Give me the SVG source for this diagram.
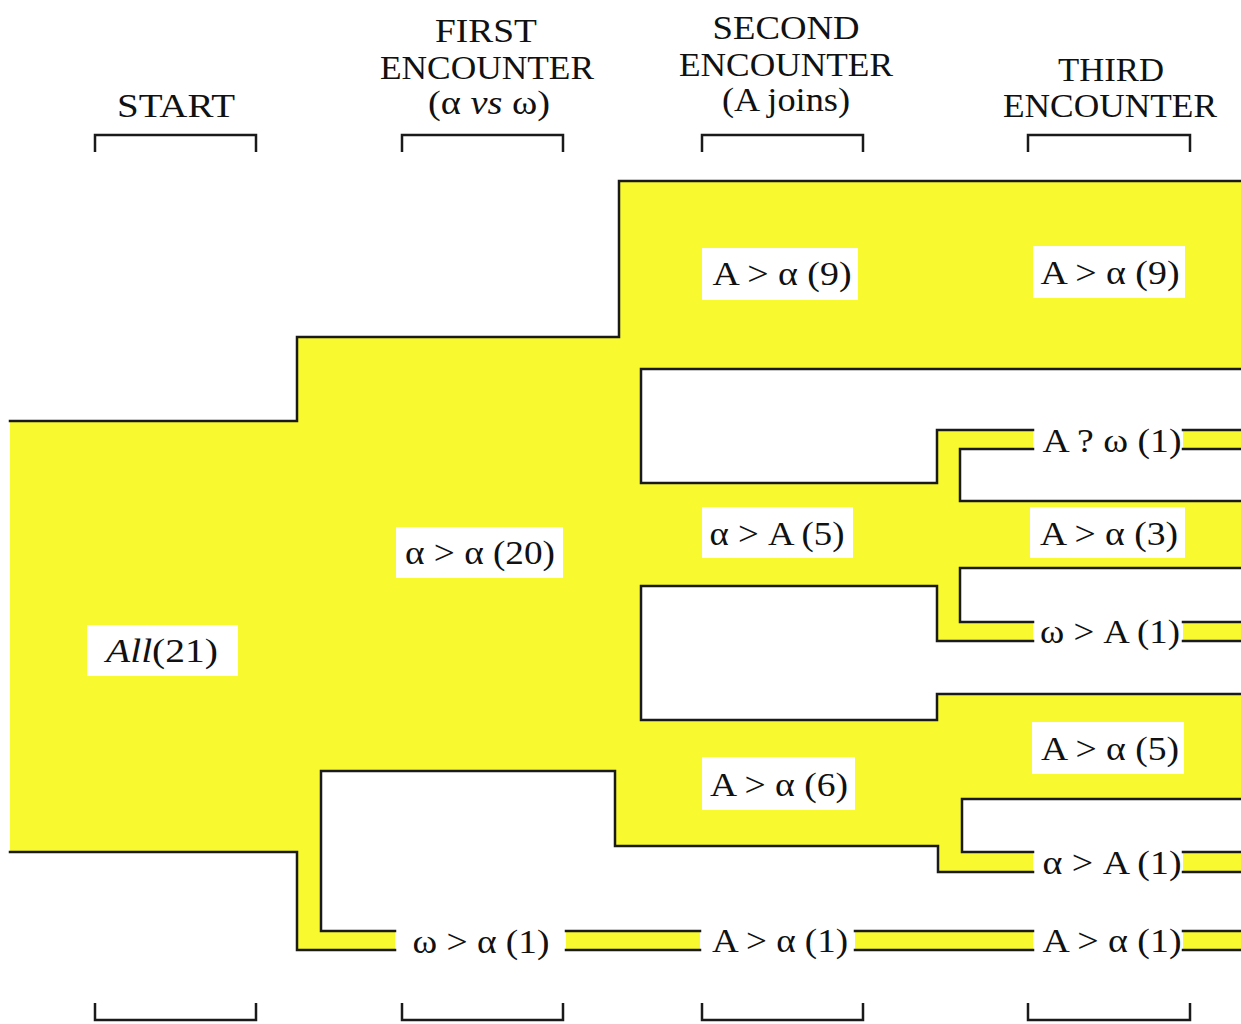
<svg xmlns="http://www.w3.org/2000/svg" width="1241" height="1024" viewBox="0 0 1241 1024">
<style>
.band{fill:#F9F930;stroke:none}
.ln{fill:none;stroke:#1a1a1a;stroke-width:2.5;stroke-linejoin:miter;stroke-linecap:square}
.br{fill:none;stroke:#1a1a1a;stroke-width:2.5}
.box{fill:#ffffff}
.t{font-family:"Liberation Serif","Times New Roman",serif;font-size:33px;fill:#111;text-anchor:middle}
.h{font-family:"Liberation Serif","Times New Roman",serif;font-size:33px;fill:#111;text-anchor:middle}
</style>
<rect width="1241" height="1024" fill="#ffffff"/>
<g id="connectors">
<path class="band" d="M10,421 H297 V337 H619 V181 H1241 V369 H641 V483 H937 V430 H1033 V449 H960 V501 H1241 V568 H960 V622 H1033 V641 H937 V586 H641 V720 H937 V694 H1241 V799 H962 V852 H1033 V872 H938 V846 H615 V771 H321 V931 H395 V950 H297 V852 H10 Z"/>
<rect class="band" x="1183" y="430" width="58" height="19"/>
<rect class="band" x="1183" y="622" width="58" height="19"/>
<rect class="band" x="1183" y="852" width="58" height="20"/>
<rect class="band" x="566" y="931" width="134" height="19"/>
<rect class="band" x="855" y="931" width="178" height="19"/>
<rect class="band" x="1183" y="931" width="58" height="19"/>
<path class="ln" d="M10,421 H297 V337 H619 V181 H1241"/>
<path class="ln" d="M1241,369 H641 V483 H937 V430 H1033"/>
<path class="ln" d="M1033,449 H960 V501 H1241"/>
<path class="ln" d="M1241,568 H960 V622 H1033"/>
<path class="ln" d="M1033,641 H937 V586 H641 V720 H937 V694 H1241"/>
<path class="ln" d="M1241,799 H962 V852 H1033"/>
<path class="ln" d="M1033,872 H938 V846 H615 V771 H321 V931 H395"/>
<path class="ln" d="M395,950 H297 V852 H10"/>
<path class="ln" d="M1183,430 H1241 M1183,449 H1241 M1183,622 H1241 M1183,641 H1241 M1183,852 H1241 M1183,872 H1241"/>
<path class="ln" d="M566,931 H700 M566,950 H700 M855,931 H1033 M855,950 H1033 M1183,931 H1241 M1183,950 H1241"/>
</g>
<g id="headers">
<g id="h-start"><text class="h" x="176" y="117" textLength="118" lengthAdjust="spacingAndGlyphs">START</text>
<path class="br" d="M95,152 V135 H256 V152"/></g>
<g id="h-first"><text class="h" x="486" y="42" textLength="102" lengthAdjust="spacingAndGlyphs">FIRST</text>
<text class="h" x="487" y="79" textLength="214" lengthAdjust="spacingAndGlyphs">ENCOUNTER</text>
<text class="h" x="489" y="114" textLength="122" lengthAdjust="spacingAndGlyphs">(α <tspan font-style="italic">vs</tspan> ω)</text>
<path class="br" d="M402,152 V135 H563 V152"/></g>
<g id="h-second"><text class="h" x="786" y="39" textLength="147" lengthAdjust="spacingAndGlyphs">SECOND</text>
<text class="h" x="786" y="76" textLength="214" lengthAdjust="spacingAndGlyphs">ENCOUNTER</text>
<text class="h" x="786" y="111" textLength="128" lengthAdjust="spacingAndGlyphs">(A joins)</text>
<path class="br" d="M702,152 V135 H863 V152"/></g>
<g id="h-third"><text class="h" x="1111" y="81" textLength="106" lengthAdjust="spacingAndGlyphs">THIRD</text>
<text class="h" x="1110" y="117" textLength="214" lengthAdjust="spacingAndGlyphs">ENCOUNTER</text>
<path class="br" d="M1028,152 V135 H1190 V152"/></g>
<g id="footer-brackets">
<path class="br" d="M95,1003 V1020 H256 V1003"/>
<path class="br" d="M402,1003 V1020 H563 V1003"/>
<path class="br" d="M702,1003 V1020 H863 V1003"/>
<path class="br" d="M1028,1003 V1020 H1190 V1003"/>
</g>
</g>
<g id="n-all"><rect class="box" x="87" y="625" width="151" height="51"/>
<text class="t" x="162" y="662" textLength="112" lengthAdjust="spacingAndGlyphs"><tspan font-style="italic">All</tspan>(21)</text></g>
<g id="n-aa20"><rect class="box" x="396" y="527" width="167" height="51"/>
<text class="t" x="480" y="564" textLength="150" lengthAdjust="spacingAndGlyphs">α &gt; α (20)</text></g>
<g id="n-Aa9-2"><rect class="box" x="702" y="248" width="156" height="52"/>
<text class="t" x="782" y="285" textLength="139" lengthAdjust="spacingAndGlyphs">A &gt; α (9)</text></g>
<g id="n-Aa9-3"><rect class="box" x="1033" y="246" width="152" height="52"/>
<text class="t" x="1110" y="284" textLength="139" lengthAdjust="spacingAndGlyphs">A &gt; α (9)</text></g>
<g id="n-aA5"><rect class="box" x="702" y="507" width="151" height="51"/>
<text class="t" x="777" y="545" textLength="135" lengthAdjust="spacingAndGlyphs">α &gt; A (5)</text></g>
<g id="n-Aa3"><rect class="box" x="1030" y="507" width="155" height="51"/>
<text class="t" x="1109" y="545" textLength="138" lengthAdjust="spacingAndGlyphs">A &gt; α (3)</text></g>
<g id="n-Aa5"><rect class="box" x="1032" y="722" width="152" height="52"/>
<text class="t" x="1110" y="760" textLength="138" lengthAdjust="spacingAndGlyphs">A &gt; α (5)</text></g>
<g id="n-Aa6"><rect class="box" x="702" y="757" width="153" height="53"/>
<text class="t" x="779" y="796" textLength="138" lengthAdjust="spacingAndGlyphs">A &gt; α (6)</text></g>
<g id="n-Aqw1"><text class="t" x="1112" y="452" textLength="139" lengthAdjust="spacingAndGlyphs">A ? ω (1)</text></g>
<g id="n-wA1"><text class="t" x="1110" y="643" textLength="140" lengthAdjust="spacingAndGlyphs">ω &gt; A (1)</text></g>
<g id="n-aA1"><text class="t" x="1112" y="874" textLength="139" lengthAdjust="spacingAndGlyphs">α &gt; A (1)</text></g>
<g id="n-wa1"><text class="t" x="481" y="953" textLength="137" lengthAdjust="spacingAndGlyphs">ω &gt; α (1)</text></g>
<g id="n-Aa1-2"><text class="t" x="780" y="952" textLength="136" lengthAdjust="spacingAndGlyphs">A &gt; α (1)</text></g>
<g id="n-Aa1-3"><text class="t" x="1112" y="952" textLength="139" lengthAdjust="spacingAndGlyphs">A &gt; α (1)</text></g>
</svg>
